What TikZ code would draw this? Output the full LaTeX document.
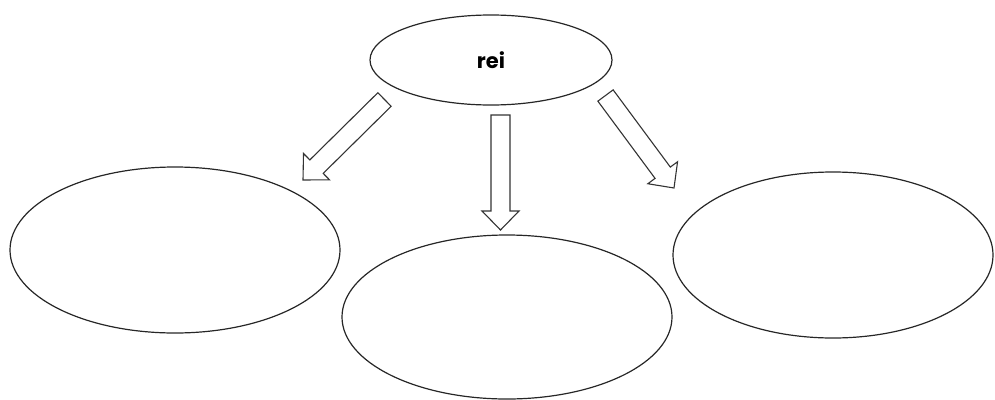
\documentclass[tikz,border=0pt]{standalone}
\usepackage{fontspec}
\setmainfont{Poppins}
\usetikzlibrary{shapes.geometric,calc}

% hollow block arrow from #1 (tail) to #2 (tip)
\newcommand{\hollowarrow}[3][]{%
  \coordinate (#2-#3-b) at ($(#3)!19pt!(#2)$);
  \draw[blockarrow,#1]
    ($(#2)!9.5pt!90:(#3)$) -- ($(#2-#3-b)!9.5pt!-90:(#2)$) --
    ($(#2-#3-b)!18.5pt!-90:(#2)$) -- (#3) --
    ($(#2-#3-b)!18.5pt!90:(#2)$) -- ($(#2-#3-b)!9.5pt!90:(#2)$) --
    ($(#2)!9.5pt!-90:(#3)$) -- cycle;%
}

\begin{document}
\begin{tikzpicture}[x=1pt,y=-1pt,
  bubble/.style={draw=black!85, line width=1.2pt, ellipse, inner sep=0pt},
  blockarrow/.style={draw=black!80, line width=1.1pt, fill=white, line join=miter}]
  \useasboundingbox (0,0) rectangle (995,399);

  % central topic and the three empty bubbles
  \node[bubble, minimum width=242pt, minimum height=90pt] (top) at (491,60)
    {\fontsize{21}{21}\selectfont\bfseries rei};
  \node[bubble, minimum width=330pt, minimum height=166pt] (left) at (175,250) {};
  \node[bubble, minimum width=330pt, minimum height=164pt] (mid) at (507,317) {};
  \node[bubble, minimum width=320pt, minimum height=166pt] (right) at (833,255) {};

  % arrow ends
  \coordinate (lt) at (384.5,99.5);  \coordinate (lp) at (303,180);
  \coordinate (mt) at (500.5,115);   \coordinate (mp) at (500.5,230);
  \coordinate (rt) at (605.5,95.5);  \coordinate (rp) at (674,188);

  \hollowarrow{lt}{lp}
  \hollowarrow{mt}{mp}
  \hollowarrow{rt}{rp}
\end{tikzpicture}
\end{document}
